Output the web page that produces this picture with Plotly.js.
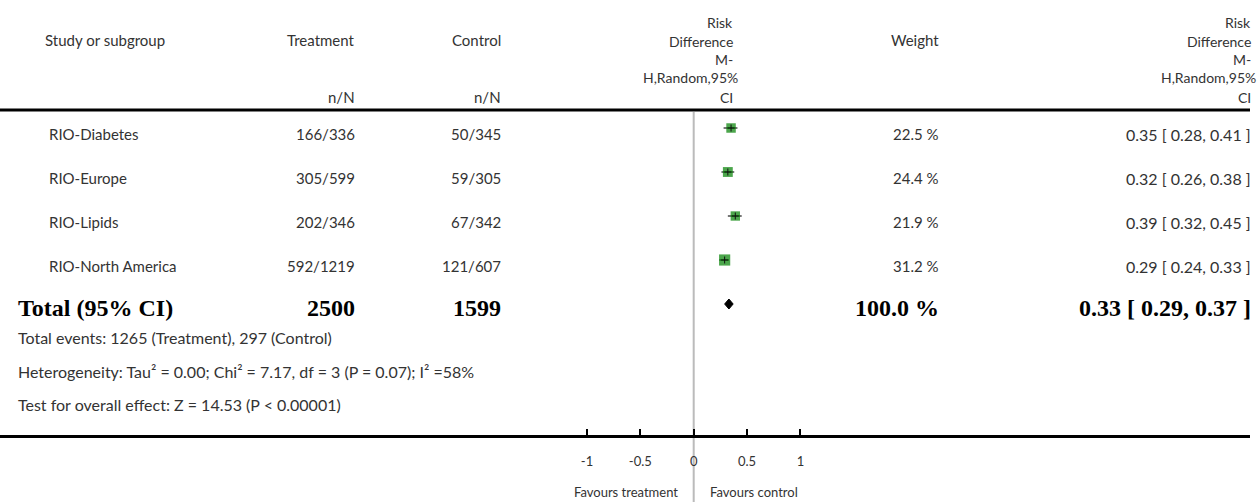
<!DOCTYPE html>
<html>
<head>
<meta charset="utf-8">
<script src="https://cdn.plot.ly/plotly-3.0.1.min.js"></script>
<style>html,body{margin:0;padding:0;background:#fff;}#chart{width:1258px;height:502px;}</style>
</head>
<body>
<div id="chart"></div>
<script>
// ---- data ----
const studies = ['RIO-Diabetes', 'RIO-Europe', 'RIO-Lipids', 'RIO-North America'];
const treatmentNN = ['166/336', '305/599', '202/346', '592/1219'];
const controlNN = ['50/345', '59/305', '67/342', '121/607'];
const riskDiff = [0.35, 0.32, 0.39, 0.29];
const ciLow = [0.28, 0.26, 0.32, 0.24];
const ciHigh = [0.41, 0.38, 0.45, 0.33];
const weights = [22.5, 24.4, 21.9, 31.2];
const totalLabel = 'Total (95% CI)';
const totalTreatment = 2500;
const totalControl = 1599;
const totalWeight = 100.0;
const totalRD = 0.33;
const totalLow = 0.29;
const totalHigh = 0.37;
const footerLines = [
  'Total events: 1265 (Treatment), 297 (Control)',
  'Heterogeneity: Tau² = 0.00; Chi² = 7.17, df = 3 (P = 0.07); I² =58%',
  'Test for overall effect: Z = 14.53 (P < 0.00001)'
];
const tickVals = [-1, -0.5, 0, 0.5, 1];
const tickText = ['-1', '-0.5', '0', '0.5', '1'];
const favoursLeft = 'Favours treatment';
const favoursRight = 'Favours control';

// ---- layout helpers ----
const W = 1258, H = 502, R = 8;
const PW = W - R;
const zeroPx = 693.7, unitPx = 106.7;     // x scale
const row0Px = 128, rowPx = 44;           // y scale
const px = p => p / PW;                   // paper x
const py = p => 1 - p / H;                // paper y
const FONT = 'Lato, "Open Sans", sans-serif';
const TXT = '#333';
const FS = 15;
const SERIF = '"Liberation Serif", "Times New Roman", serif';

const fmt2 = v => v.toFixed(2);
const ann = [];
function add(text, xp, yp, anchor, opts) {
  ann.push(Object.assign({
    text: text, xref: 'paper', yref: 'paper', x: px(xp), y: py(yp),
    xanchor: anchor, yanchor: 'middle', showarrow: false,
    font: {family: FONT, size: FS, color: TXT}
  }, opts || {}));
}
// headers
add('Study or subgroup', 43, 40, 'left');
add('Treatment', 357, 40, 'right');
add('Control', 503, 40, 'right');
add('n/N', 357, 97, 'right');
add('n/N', 503, 97, 'right');
add('Weight', 941, 40, 'right');
const rdHead = ['Risk', 'Difference', 'M-', 'H,Random,95%', 'CI'];
const rdHeadY = [23, 41, 59, 78, 97];
const hfont = {family: FONT, size: 14, color: TXT};
rdHead.forEach((t, i) => {
  add(t, t === 'H,Random,95%' ? 740 : 735, rdHeadY[i], 'right', {font: hfont});
});
rdHead.forEach((t, i) => {
  add(t, t === 'H,Random,95%' ? 1258 : 1253, rdHeadY[i], 'right', {font: hfont});
});
// study rows
studies.forEach((s, i) => {
  const rowOpts = {yref: 'y', y: i, yshift: -6};
  add(s, 47, 0, 'left', rowOpts);
  add(treatmentNN[i], 357, 0, 'right', rowOpts);
  add(controlNN[i], 503, 0, 'right', rowOpts);
  add(weights[i].toFixed(1) + ' %', 941, 0, 'right', rowOpts);
  add(fmt2(riskDiff[i]) + ' [ ' + fmt2(ciLow[i]) + ', ' + fmt2(ciHigh[i]) + ' ]', 1253, 0, 'right',
      Object.assign({}, rowOpts, {font: {family: FONT, size: 16, color: TXT}}));
});
// total row
const tRow = studies.length;
const bold = {family: SERIF, size: 24, color: '#000'};
const tOpts = {yref: 'y', y: tRow, yshift: -4, font: bold};
add('<b>' + totalLabel + '</b>', 16, 0, 'left', tOpts);
add('<b>' + totalTreatment + '</b>', 357, 0, 'right', tOpts);
add('<b>' + totalControl + '</b>', 503, 0, 'right', tOpts);
add('<b>' + totalWeight.toFixed(1) + ' %</b>', 941, 0, 'right', tOpts);
add('<b>' + fmt2(totalRD) + ' [ ' + fmt2(totalLow) + ', ' + fmt2(totalHigh) + ' ]</b>', 1253, 0, 'right', tOpts);
// footer
const footY = [337, 371, 404];
footerLines.forEach((t, i) => add(t, 16, footY[i], 'left', {font: {family: FONT, size: 16, color: TXT}}));
// favours
ann.push({text: favoursLeft, xref: 'x', x: 0, xshift: -14, yref: 'paper', y: py(492), xanchor: 'right', yanchor: 'middle', showarrow: false, font: {family: FONT, size: 13, color: TXT}});
ann.push({text: favoursRight, xref: 'x', x: 0, xshift: 14, yref: 'paper', y: py(492), xanchor: 'left', yanchor: 'middle', showarrow: false, font: {family: FONT, size: 13, color: TXT}});

// ---- traces ----
const rows = studies.map((_, i) => i);
const ciX = [], ciY = [];
rows.forEach(i => { ciX.push(ciLow[i], ciHigh[i], null); ciY.push(i, i, null); });
const dh = 5 / rowPx;
const traces = [
  {type: 'scatter', mode: 'lines', x: ciX, y: ciY, line: {color: '#777', width: 2}},
  {type: 'scatter', mode: 'markers', x: riskDiff, y: rows,
   marker: {symbol: 'square', color: '#008000', size: weights.map(w => 2 * Math.sqrt(w)), line: {width: 0}}},
  {type: 'scatter', mode: 'markers', x: riskDiff, y: rows,
   marker: {symbol: 'cross-thin-open', size: 5, color: '#111', line: {width: 1, color: '#111'}}},
  {type: 'scatter', mode: 'lines', x: [totalLow, totalRD, totalHigh, totalRD, totalLow],
   y: [tRow, tRow - dh, tRow, tRow + dh, tRow], fill: 'toself', fillcolor: '#000', line: {color: '#000', width: 1}}
];

const layout = {
  width: W, height: H,
  margin: {l: 0, r: R, t: 0, b: 0, pad: 0},
  paper_bgcolor: '#fff', plot_bgcolor: 'rgba(0,0,0,0)',
  showlegend: false, hovermode: false,
  xaxis: {
    range: [-zeroPx / unitPx, (PW - zeroPx) / unitPx],
    anchor: 'free', position: py(436),
    showline: true, linewidth: 3, linecolor: '#000',
    ticks: 'inside', ticklen: 6, tickwidth: 2, tickcolor: '#000',
    tickmode: 'array', tickvals: tickVals, ticktext: tickText,
    tickfont: {family: FONT, size: 13, color: TXT},
    ticklabelstandoff: 12,
    showgrid: false, zeroline: false, fixedrange: true
  },
  yaxis: {
    range: [(H - row0Px) / rowPx, -row0Px / rowPx],
    visible: false, showgrid: false, zeroline: false, fixedrange: true
  },
  shapes: [
    {type: 'line', xref: 'x', x0: 0, x1: 0, yref: 'paper', y0: 0, y1: py(112), line: {color: '#bbb', width: 2}, layer: 'below'},
    {type: 'line', xref: 'paper', x0: 0, x1: 1, yref: 'paper', y0: py(110), y1: py(110), line: {color: '#000', width: 3}}
  ],
  annotations: ann
};
Plotly.newPlot('chart', traces, layout, {staticPlot: true, displayModeBar: false});
</script>
</body>
</html>
